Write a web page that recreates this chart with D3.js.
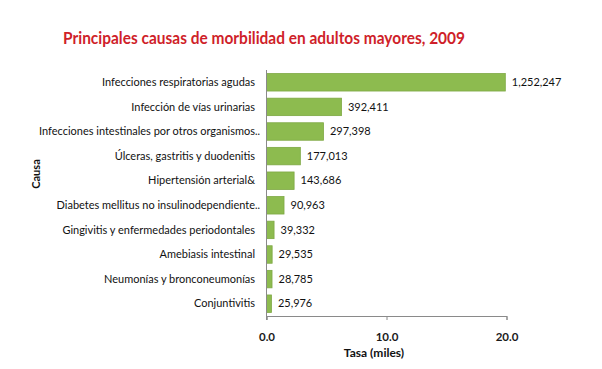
<!DOCTYPE html>
<html><head><meta charset="utf-8">
<script src="https://cdn.jsdelivr.net/npm/d3@7"></script>
<style>body{margin:0;background:#fff}svg{display:block}</style></head>
<body><svg id="c" width="602" height="369"></svg>
<script>
const title = "Principales causas de morbilidad en adultos mayores, 2009";
const xTitle = "Tasa (miles)";
const yTitle = "Causa";
const categories = [
  "Infecciones respiratorias agudas",
  "Infección de vías urinarias",
  "Infecciones intestinales por otros organismos...",
  "Úlceras, gastritis y duodenitis",
  "Hipertensión arterial&",
  "Diabetes mellitus no insulinodependiente...",
  "Gingivitis y enfermedades periodontales",
  "Amebiasis intestinal",
  "Neumonías y bronconeumonías",
  "Conjuntivitis"
];
const tasas = [19.9, 6.25, 4.75, 2.82, 2.3, 1.46, 0.63, 0.47, 0.46, 0.41];
const casos = ["1,252,247", "392,411", "297,398", "177,013", "143,686", "90,963", "39,332", "29,535", "28,785", "25,976"];
const xTicks = [0, 10, 20];

const FONT = "Lato, 'Liberation Sans', Arial, sans-serif";
const data = categories.map((c, i) => ({cat: c, tasa: tasas[i], casos: casos[i]}));
const svg = d3.select("#c");

const x = d3.scaleLinear().domain([0, 20]).range([266.5, 506.5]);
const y = d3.scaleBand().domain(categories).range([70, 316]).paddingInner(0.29).paddingOuter(0.145);

// title
const t = svg.append("text").attr("x", 264).attr("y", 44).attr("text-anchor", "middle")
  .attr("font-family", FONT).attr("font-weight", "bold").attr("font-size", 17)
  .attr("fill", "#cf1f2a").text(title);
t.attr("textLength", 402).attr("lengthAdjust", "spacingAndGlyphs");

// bars
svg.append("g").selectAll("rect").data(data).join("rect")
  .attr("x", x(0)).attr("y", d => y(d.cat))
  .attr("width", d => x(d.tasa) - x(0)).attr("height", y.bandwidth())
  .attr("fill", "#8dbb4f").attr("stroke", "#7ea843").attr("stroke-width", 0.8);

// x axis
const xa = svg.append("g").attr("transform", `translate(0,${y.range()[1]})`)
  .call(d3.axisBottom(x).tickValues(xTicks).tickFormat(d3.format(".1f")).tickSize(4).tickSizeOuter(4).tickPadding(13));
xa.select(".domain").attr("stroke", "#8a8a8a");
xa.selectAll(".tick line").attr("stroke", "#8a8a8a");
xa.selectAll(".tick text").attr("font-family", FONT).attr("font-weight", "bold").attr("font-size", 11.5).attr("fill", "#1a1a1a");

// y axis line
svg.append("line").attr("x1", x(0)).attr("x2", x(0)).attr("y1", y.range()[0]).attr("y2", y.range()[1] + 4)
  .attr("stroke", "#8a8a8a");

// category labels
const lab = svg.append("g").attr("font-family", FONT).attr("font-size", 10.5).attr("fill", "#111");
const labelRight = x(0) - 11.5;
const probe = lab.append("text").text(categories[0]);
const k = 153 / probe.node().getComputedTextLength();
probe.remove();
data.forEach(d => {
  const hasEll = d.cat.endsWith("...");
  const main = hasEll ? d.cat.slice(0, -3) : d.cat;
  const cy = y(d.cat) + y.bandwidth() / 2;
  const tx = lab.append("text").attr("x", labelRight).attr("y", cy).attr("dy", "0.35em")
    .attr("text-anchor", "end").text(main);
  tx.attr("textLength", tx.node().getComputedTextLength() * k).attr("lengthAdjust", "spacingAndGlyphs");
  if (hasEll) {
    lab.append("text").attr("x", labelRight).attr("y", cy).attr("dy", "0.35em").text("..");
  }
});

// value labels
const vl = svg.append("g").attr("font-family", FONT).attr("font-size", 10.5).attr("fill", "#111");
data.forEach(d => {
  const tx = vl.append("text").attr("x", x(d.tasa) + 6.5).attr("y", y(d.cat) + y.bandwidth() / 2)
    .attr("dy", "0.35em").text(d.casos);
  tx.attr("textLength", tx.node().getComputedTextLength() * Math.max(k, 0.9)).attr("lengthAdjust", "spacingAndGlyphs");
});

// axis titles
svg.append("text").attr("x", 374).attr("y", 357).attr("text-anchor", "middle")
  .attr("font-family", FONT).attr("font-weight", "bold").attr("font-size", 12).attr("fill", "#111").text(xTitle);
svg.append("text").attr("transform", `translate(40,174) rotate(-90)`).attr("text-anchor", "middle")
  .attr("font-family", FONT).attr("font-weight", "bold").attr("font-size", 11).attr("fill", "#111").text(yTitle);
</script></body></html>
